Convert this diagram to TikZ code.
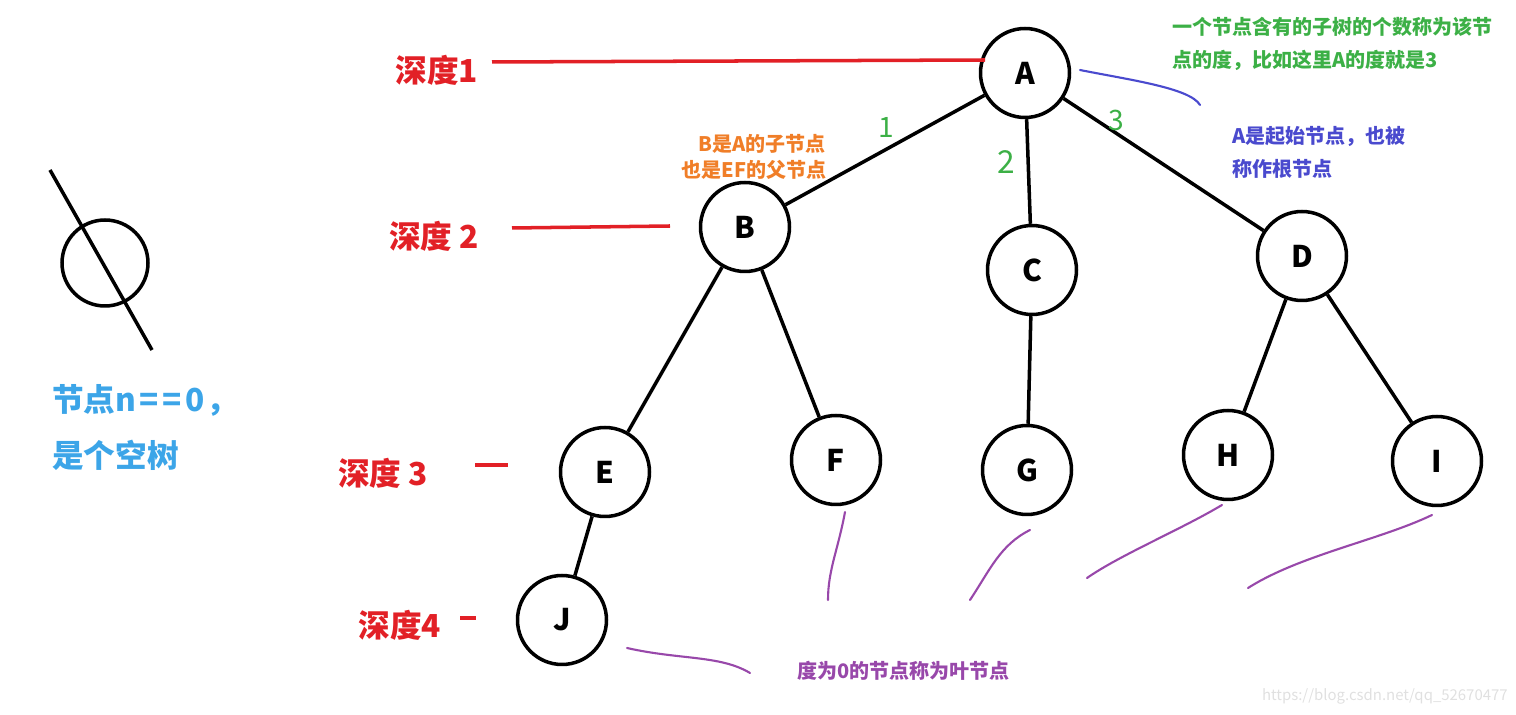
\documentclass[tikz,border=0pt]{standalone}
\usepackage{fontspec}
\setmainfont{Noto Sans CJK SC}
\usepackage{xcolor}
\definecolor{depthred}{RGB}{226,32,38}
\definecolor{notegreen}{RGB}{60,176,70}
\definecolor{noteorange}{RGB}{240,126,40}
\definecolor{noteblue}{RGB}{74,74,206}
\definecolor{notepurple}{RGB}{152,72,170}
\definecolor{nullblue}{RGB}{60,165,232}

\begin{document}
\begin{tikzpicture}[x=0.02cm, y=-0.02cm,
	treenode/.style={circle, draw, line width=2pt, minimum size=1.78cm, inner sep=0pt, font=\fontsize{17}{19}\selectfont\bfseries},
	edge/.style={line width=2pt},
	depthlabel/.style={text=depthred, font=\fontsize{18}{20}\selectfont\bfseries, inner sep=0pt},
	depthline/.style={depthred, line width=2pt},
	note/.style={font=\fontsize{11.4}{18.5}\selectfont\bfseries, inner sep=0pt, align=left},
	scribble/.style={notepurple, line width=1.2pt, line cap=round}]
	\useasboundingbox (0, 0) rectangle (1516, 715);
	% Nodes:
	\node[treenode] (A) at (1025, 73){A};
	\node[treenode] (B) at (745, 227){B};
	\node[treenode] (C) at (1032, 270){C};
	\node[treenode] (D) at (1302, 256){D};
	\node[treenode] (E) at (605, 472){E};
	\node[treenode] (F) at (836, 460){F};
	\node[treenode] (G) at (1027, 470){G};
	\node[treenode] (H) at (1228, 455){H};
	\node[treenode] (I) at (1437, 461){I};
	\node[treenode] (J) at (562, 620){J};
	% Edges:
	\draw[edge] (A) -- (B);
	\draw[edge] (A) -- (C);
	\draw[edge] (A) -- (D);
	\draw[edge] (B) -- (E);
	\draw[edge] (B) -- (F);
	\draw[edge] (C) -- (G);
	\draw[edge] (D) -- (H);
	\draw[edge] (D) -- (I);
	\draw[edge] (E) -- (J);
	% Edge numbers:
	\node[text=notegreen, font=\fontsize{16}{18}\selectfont] (n1) at (886, 127){1};
	\node[text=notegreen, font=\fontsize{18}{20}\selectfont] (n2) at (1006, 162){2};
	\node[text=notegreen, font=\fontsize{16}{18}\selectfont] (n3) at (1116, 120){3};
	% Depths:
	\node[depthlabel] (d1) at (437, 70){深度1};
	\coordinate (d1end) at (985, 60);
	\draw[depthline] (492, 62) coordinate (d1start) -- (d1end);
	\node[depthlabel] (d2) at (434, 236){深度 2};
	\draw[depthline] (512, 228) coordinate (d2start) -- (670, 226) coordinate (d2end);
	\node[depthlabel] (d3) at (383, 473){深度 3};
	\draw[depthline] (475, 465) coordinate (d3start) -- (508, 465) coordinate (d3end);
	\node[depthlabel] (d4) at (400, 625){深度4};
	\draw[depthline] (460, 618) coordinate (d4start) -- (476, 618) coordinate (d4end);
	% Empty tree:
	\node[circle, draw, line width=2pt, minimum size=1.72cm] (empty) at (105, 263){};
	\draw[edge] (50, 170) coordinate (s1) -- (152, 350) coordinate (s2);
	\node[text=nullblue, font=\fontsize{18}{32}\selectfont\bfseries, inner sep=0pt, anchor=north west, align=left] (nulltext) at (52, 384){节点n\kern2pt=\kern2pt=\kern2pt0\kern1pt，\\是个空树};
	% Notes:
	\node[note, text=notegreen, anchor=north west] (degree) at (1172, 17){一个节点含有的子树的个数称为该节\\点的度，比如这里A的度就是3};
	\node[note, text=noteorange, anchor=north east] (parent) at (826, 134){B是A的子节点};
	\node[note, text=noteorange, anchor=north west] (parent2) at (681, 160){也是EF的父节点};
	\node[note, text=noteblue, anchor=north west] (root) at (1232, 126){A是起始节点，也被\\称作根节点};
	\node[note, text=notepurple, anchor=north west] (leaf) at (797, 661){度为0的节点称为叶节点};
	% Scribbles:
	\draw[noteblue, line width=1.2pt, line cap=round] (1080, 70) .. controls (1130, 80) and (1190, 88) .. (1200, 105);
	\draw[scribble] (845, 512) .. controls (838, 550) and (828, 570) .. (828, 600);
	\draw[scribble] (1030, 530) .. controls (1000, 545) and (990, 570) .. (970, 600);
	\draw[scribble] (1222, 505) .. controls (1180, 530) and (1120, 555) .. (1087, 578);
	\draw[scribble] (1432, 515) .. controls (1380, 540) and (1300, 555) .. (1248, 588);
	\draw[scribble] (627, 648) .. controls (680, 660) and (720, 655) .. (750, 673);
	% Watermark:
	\node[text=black!12, font=\fontsize{8.5}{10}\selectfont, inner sep=0pt, anchor=east] (mark) at (1508, 696){https://blog.csdn.net/qq\_52670477};
\end{tikzpicture}
\end{document}
